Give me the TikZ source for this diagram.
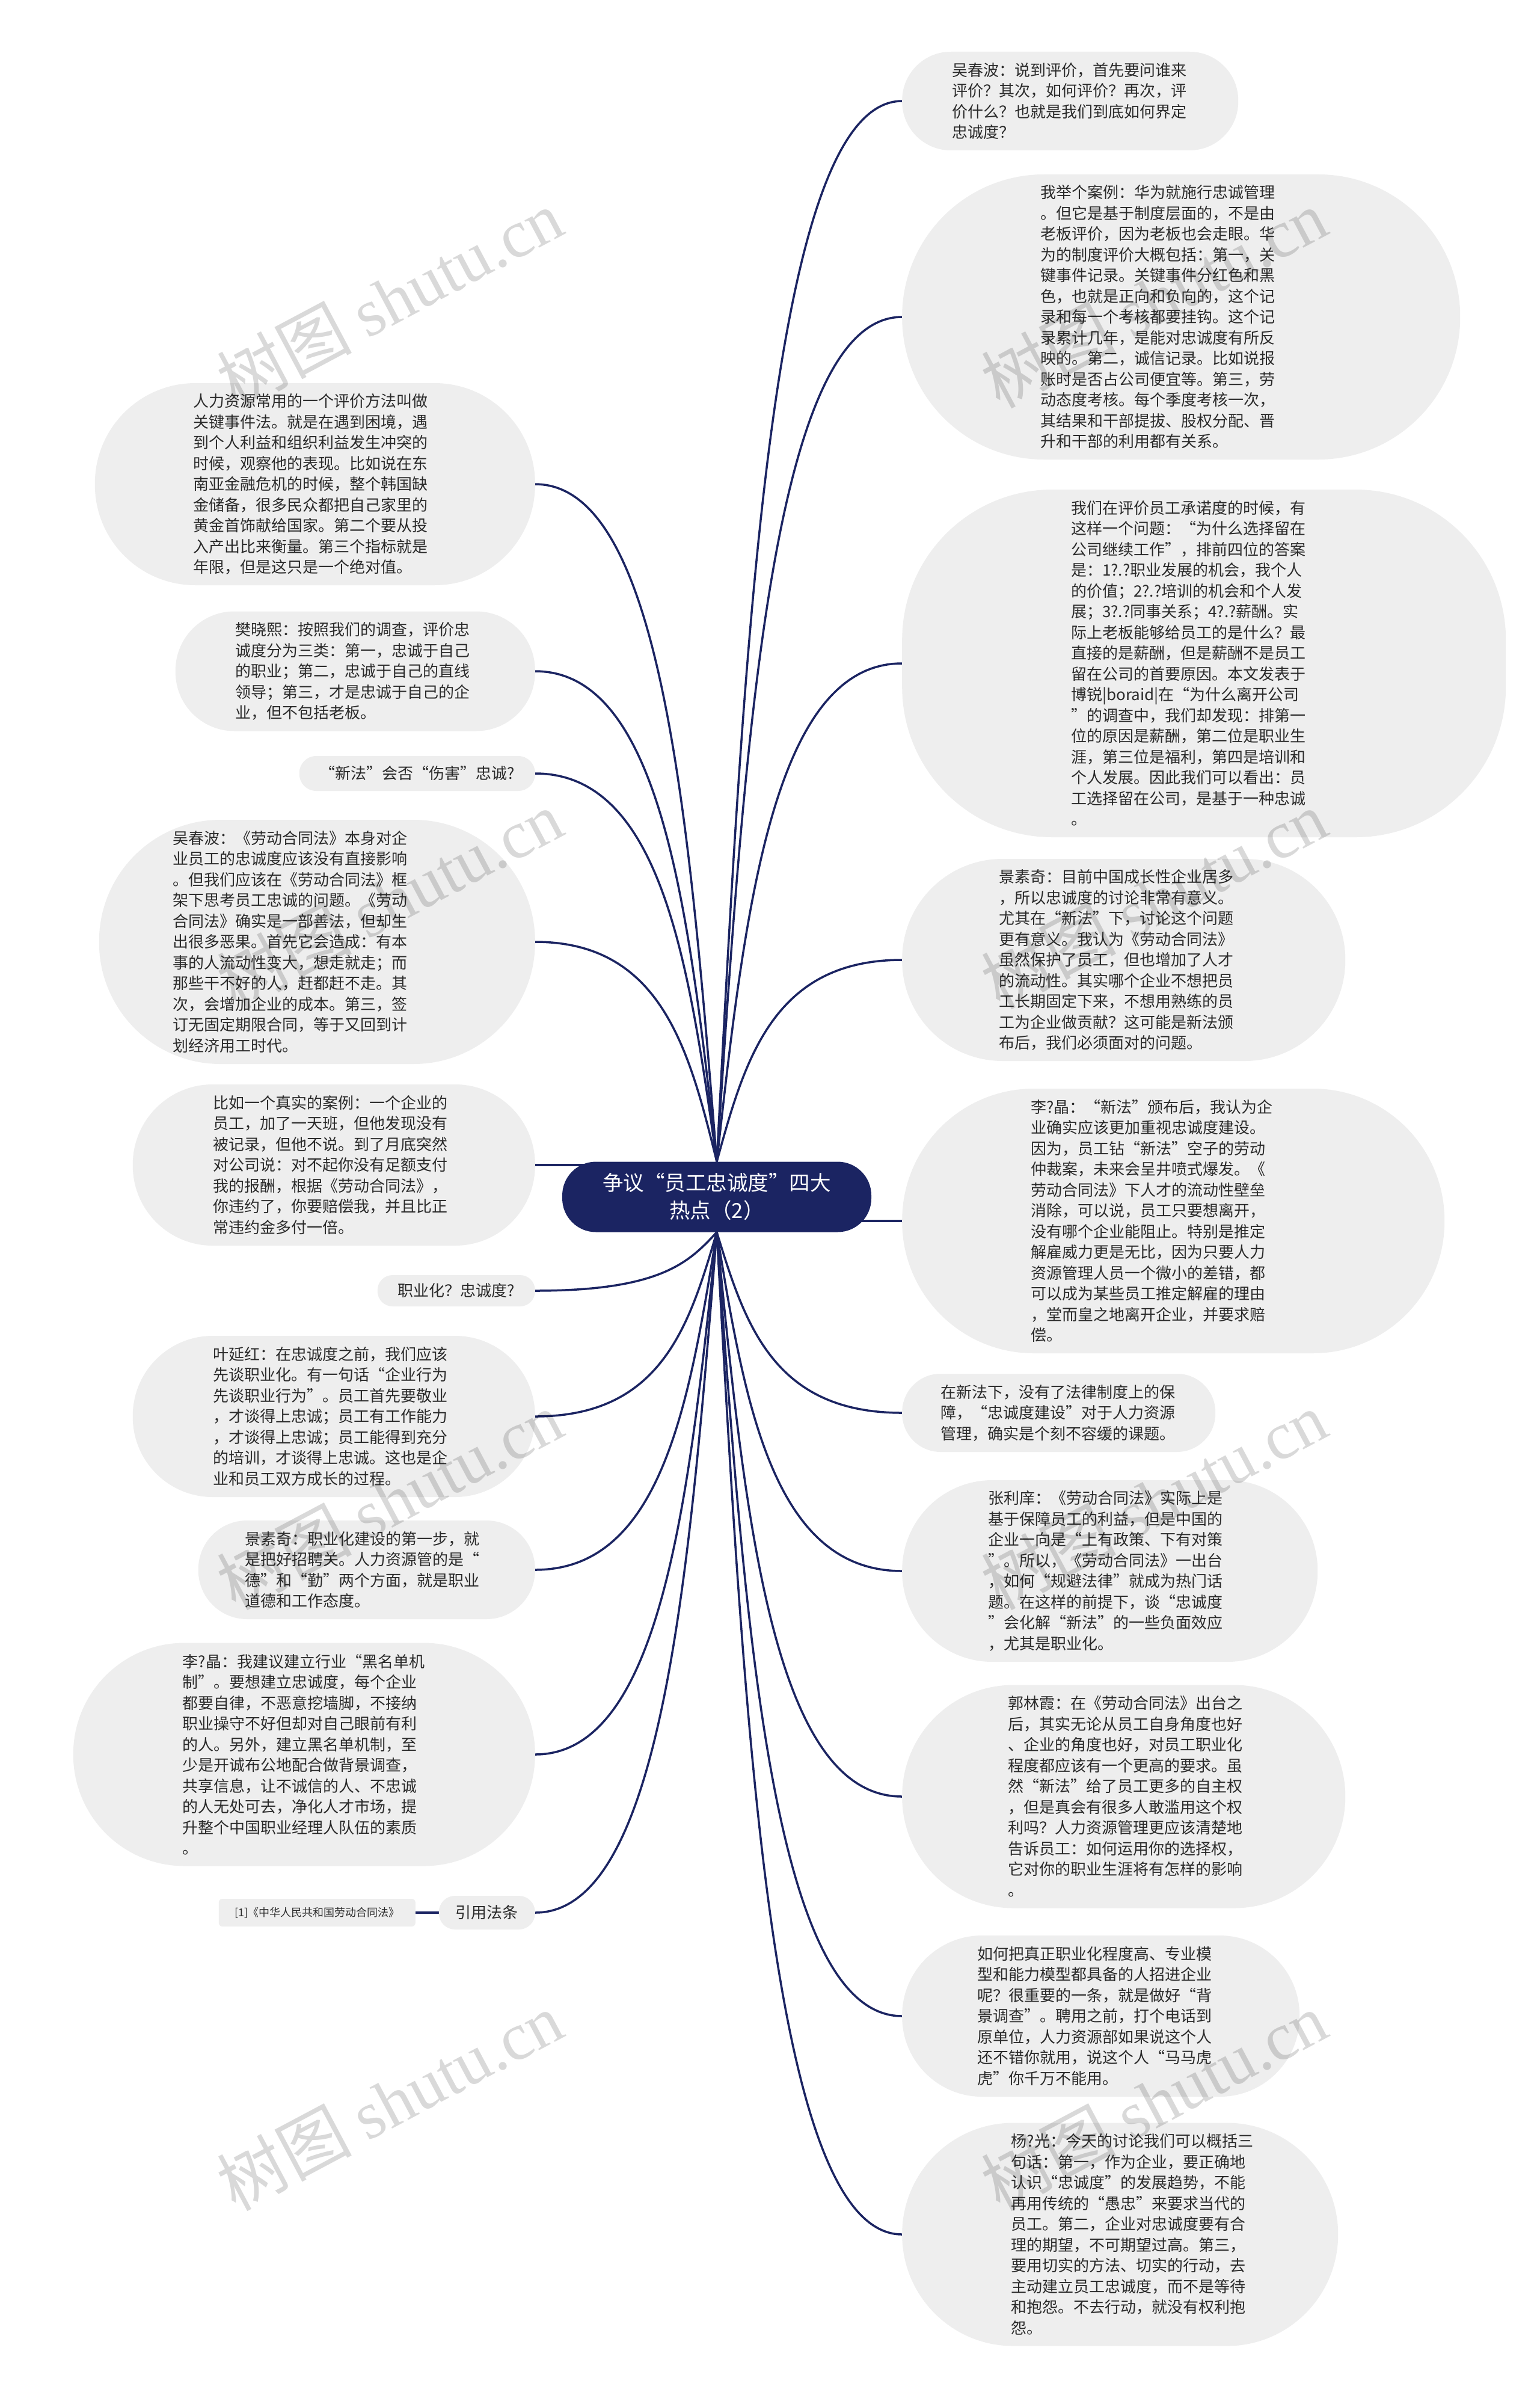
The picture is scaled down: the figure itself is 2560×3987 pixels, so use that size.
\documentclass[tikz,border=0pt]{standalone}
\usepackage{fontspec}
\setmainfont{Noto Sans CJK SC}
\newfontfamily\wmserif{Liberation Serif}
\usetikzlibrary{calc,backgrounds}
\definecolor{navy}{HTML}{1B2462}
\definecolor{bubgray}{HTML}{EEEEEE}
\definecolor{txtc}{HTML}{2A2A2A}
\newcommand\tb[2]{\hspace*{#1}\parbox{392pt}{\raggedright #2}}
\newcommand\mmconn[2]{\draw[connline] let \p1=(#1), \p2=(#2) in (\p1) .. controls ({\x1+0.15*(\x2-\x1)},{\y1+0.5*(\y2-\y1)}) and ({\x1+0.3*(\x2-\x1)},\y2) .. (\p2);}
\tikzset{
  bub/.style={fill=bubgray, text=txtc, inner sep=0pt, font=\fontsize{26pt}{34.5pt}\selectfont},
  connline/.style={draw=navy, line width=3.5pt, line cap=round},
  wmark/.style={rotate=28, text=black, opacity=0.15, font=\fontsize{112pt}{112pt}\selectfont},
}
\begin{document}
\begin{tikzpicture}[x=1pt,y=-1pt]
\useasboundingbox (0,0) rectangle (2560,3987);

% root
\node[fill=navy, text=white, rounded corners=56pt, minimum width=514pt, minimum height=117pt, inner sep=0pt, align=center, font=\fontsize{34.5pt}{46pt}\selectfont] (root) at (1192,1990) {争议“员工忠诚度”四大\\热点（2）};

% right side
\node[bub, anchor=west, minimum width=559pt, minimum height=164pt, rounded corners=81pt] (R1) at (1500,168) {\tb{0pt}{吴春波：说到评价，首先要问谁来\\评价？其次，如何评价？再次，评\\价什么？也就是我们到底如何界定\\忠诚度？}};

\node[bub, anchor=west, minimum width=928pt, minimum height=474pt, rounded corners=236pt] (R2) at (1500,527) {\tb{-76pt}{我举个案例：华为就施行忠诚管理\\。但它是基于制度层面的，不是由\\老板评价，因为老板也会走眼。华\\为的制度评价大概包括：第一，关\\键事件记录。关键事件分红色和黑\\色，也就是正向和负向的，这个记\\录和每一个考核都要挂钩。这个记\\录累计几年，是能对忠诚度有所反\\映的。第二，诚信记录。比如说报\\账时是否占公司便宜等。第三，劳\\动态度考核。每个季度考核一次，\\其结果和干部提拔、股权分配、晋\\升和干部的利用都有关系。}};

\node[bub, anchor=west, minimum width=1004pt, minimum height=578pt, rounded corners=250pt] (R3) at (1500,1103) {\tb{-50pt}{我们在评价员工承诺度的时候，有\\这样一个问题：“为什么选择留在\\公司继续工作”，排前四位的答案\\是：1?.?职业发展的机会，我个人\\的价值；2?.?培训的机会和个人发\\展；3?.?同事关系；4?.?薪酬。实\\际上老板能够给员工的是什么？最\\直接的是薪酬，但是薪酬不是员工\\留在公司的首要原因。本文发表于\\博锐|boraid|在“为什么离开公司\\”的调查中，我们却发现：排第一\\位的原因是薪酬，第二位是职业生\\涯，第三位是福利，第四是培训和\\个人发展。因此我们可以看出：员\\工选择留在公司，是基于一种忠诚\\。}};

\node[bub, anchor=west, minimum width=737pt, minimum height=336pt, rounded corners=167pt] (R4) at (1500,1596) {\tb{-22pt}{景素奇：目前中国成长性企业居多\\，所以忠诚度的讨论非常有意义。\\尤其在“新法”下，讨论这个问题\\更有意义。我认为《劳动合同法》\\虽然保护了员工，但也增加了人才\\的流动性。其实哪个企业不想把员\\工长期固定下来，不想用熟练的员\\工为企业做贡献？这可能是新法颁\\布后，我们必须面对的问题。}};

\node[bub, anchor=west, minimum width=902pt, minimum height=440pt, rounded corners=219pt] (R5) at (1500,2030) {\tb{-82pt}{李?晶：“新法”颁布后，我认为企\\业确实应该更加重视忠诚度建设。\\因为，员工钻“新法”空子的劳动\\仲裁案，未来会呈井喷式爆发。《\\劳动合同法》下人才的流动性壁垒\\消除，可以说，员工只要想离开，\\没有哪个企业能阻止。特别是推定\\解雇威力更是无比，因为只要人力\\资源管理人员一个微小的差错，都\\可以成为某些员工推定解雇的理由\\，堂而皇之地离开企业，并要求赔\\偿。}};

\node[bub, anchor=west, minimum width=521pt, minimum height=130pt, rounded corners=64pt] (R6) at (1500,2349) {\tb{0pt}{在新法下，没有了法律制度上的保\\障，“忠诚度建设”对于人力资源\\管理，确实是个刻不容缓的课题。}};

\node[bub, anchor=west, minimum width=691pt, minimum height=302pt, rounded corners=150pt] (R7) at (1500,2612) {\tb{-12pt}{张利庠：《劳动合同法》实际上是\\基于保障员工的利益，但是中国的\\企业一向是“上有政策、下有对策\\”。所以，《劳动合同法》一出台\\，如何“规避法律”就成为热门话\\题。在这样的前提下，谈“忠诚度\\”会化解“新法”的一些负面效应\\，尤其是职业化。}};

\node[bub, anchor=west, minimum width=737pt, minimum height=371pt, rounded corners=185pt] (R8) at (1500,2987) {\tb{8pt}{郭林霞：在《劳动合同法》出台之\\后，其实无论从员工自身角度也好\\、企业的角度也好，对员工职业化\\程度都应该有一个更高的要求。虽\\然“新法”给了员工更多的自主权\\，但是真会有很多人敢滥用这个权\\利吗？人力资源管理更应该清楚地\\告诉员工：如何运用你的选择权，\\它对你的职业生涯将有怎样的影响\\。}};

\node[bub, anchor=west, minimum width=661pt, minimum height=268pt, rounded corners=133pt] (R9) at (1500,3352) {\tb{-18pt}{如何把真正职业化程度高、专业模\\型和能力模型都具备的人招进企业\\呢？很重要的一条，就是做好“背\\景调查”。聘用之前，打个电话到\\原单位，人力资源部如果说这个人\\还不错你就用，说这个人“马马虎\\虎”你千万不能用。}};

\node[bub, anchor=west, minimum width=725pt, minimum height=371pt, rounded corners=185pt] (R10) at (1500,3715) {\tb{30pt}{杨?光：今天的讨论我们可以概括三\\句话：第一，作为企业，要正确地\\认识“忠诚度”的发展趋势，不能\\再用传统的“愚忠”来要求当代的\\员工。第二，企业对忠诚度要有合\\理的期望，不可期望过高。第三，\\要用切实的方法、切实的行动，去\\主动建立员工忠诚度，而不是等待\\和抱怨。不去行动，就没有权利抱\\怨。}};

% left side
\node[bub, anchor=east, minimum width=732pt, minimum height=336pt, rounded corners=167pt] (L1) at (890,805) {\tb{-12pt}{人力资源常用的一个评价方法叫做\\关键事件法。就是在遇到困境，遇\\到个人利益和组织利益发生冲突的\\时候，观察他的表现。比如说在东\\南亚金融危机的时候，整个韩国缺\\金储备，很多民众都把自己家里的\\黄金首饰献给国家。第二个要从投\\入产出比来衡量。第三个指标就是\\年限，但是这只是一个绝对值。}};

\node[bub, anchor=east, minimum width=598pt, minimum height=199pt, rounded corners=98pt] (L2) at (890,1116) {\tb{-6pt}{樊晓熙：按照我们的调查，评价忠\\诚度分为三类：第一，忠诚于自己\\的职业；第二，忠诚于自己的直线\\领导；第三，才是忠诚于自己的企\\业，但不包括老板。}};

\node[bub, anchor=east, minimum width=392pt, minimum height=58pt, rounded corners=28pt] (L3) at (890,1286) {“新法”会否“伤害”忠诚?};

\node[bub, anchor=east, minimum width=725pt, minimum height=406pt, rounded corners=202pt] (L4) at (890,1566) {\tb{-88pt}{吴春波：《劳动合同法》本身对企\\业员工的忠诚度应该没有直接影响\\。但我们应该在《劳动合同法》框\\架下思考员工忠诚的问题。《劳动\\合同法》确实是一部善法，但却生\\出很多恶果。首先它会造成：有本\\事的人流动性变大，想走就走；而\\那些干不好的人，赶都赶不走。其\\次，会增加企业的成本。第三，签\\订无固定期限合同，等于又回到计\\划经济用工时代。}};

\node[bub, anchor=east, minimum width=669pt, minimum height=268pt, rounded corners=133pt] (L5) at (890,1937) {\tb{-10pt}{比如一个真实的案例：一个企业的\\员工，加了一天班，但他发现没有\\被记录，但他不说。到了月底突然\\对公司说：对不起你没有足额支付\\我的报酬，根据《劳动合同法》，\\你违约了，你要赔偿我，并且比正\\常违约金多付一倍。}};

\node[bub, anchor=east, minimum width=262pt, minimum height=52pt, rounded corners=25pt] (L6) at (890,2146) {职业化？忠诚度?};

\node[bub, anchor=east, minimum width=669pt, minimum height=268pt, rounded corners=133pt] (L7) at (890,2355) {\tb{-10pt}{叶延红：在忠诚度之前，我们应该\\先谈职业化。有一句话“企业行为\\先谈职业行为”。员工首先要敬业\\，才谈得上忠诚；员工有工作能力\\，才谈得上忠诚；员工能得到充分\\的培训，才谈得上忠诚。这也是企\\业和员工双方成长的过程。}};

\node[bub, anchor=east, minimum width=560pt, minimum height=164pt, rounded corners=81pt] (L8) at (890,2610) {\tb{-12pt}{景素奇：职业化建设的第一步，就\\是把好招聘关。人力资源管的是“\\德”和“勤”两个方面，就是职业\\道德和工作态度。}};

\node[bub, anchor=east, minimum width=768pt, minimum height=371pt, rounded corners=185pt] (L9) at (890,2917) {\tb{-12pt}{李?晶：我建议建立行业“黑名单机\\制”。要想建立忠诚度，每个企业\\都要自律，不恶意挖墙脚，不接纳\\职业操守不好但却对自己眼前有利\\的人。另外，建立黑名单机制，至\\少是开诚布公地配合做背景调查，\\共享信息，让不诚信的人、不忠诚\\的人无处可去，净化人才市场，提\\升整个中国职业经理人队伍的素质\\。}};

\node[bub, anchor=east, minimum width=160pt, minimum height=56pt, rounded corners=27pt] (L10) at (890,3180) {引用法条};

\node[fill=bubgray, text=txtc, rounded corners=6pt, minimum width=327pt, minimum height=46pt, inner sep=0pt, font=\fontsize{18pt}{22pt}\selectfont, anchor=east] (cite) at (691,3180) {[1]《中华人民共和国劳动合同法》};

% connectors
\begin{scope}[on background layer]
\fill[white] (0,0) rectangle (2560,3987);
\mmconn{root.north}{R1.west}
\mmconn{root.north}{R2.west}
\mmconn{root.north}{R3.west}
\mmconn{root.north}{R4.west}
\draw[connline] (R5.west) -- (R5.west -| root.center);
\mmconn{root.south}{R6.west}
\mmconn{root.south}{R7.west}
\mmconn{root.south}{R8.west}
\mmconn{root.south}{R9.west}
\mmconn{root.south}{R10.west}
\mmconn{root.north}{L1.east}
\mmconn{root.north}{L2.east}
\mmconn{root.north}{L3.east}
\mmconn{root.north}{L4.east}
\draw[connline] (L5.east) -- (L5.east -| root.center);
\mmconn{root.south}{L6.east}
\mmconn{root.south}{L7.east}
\mmconn{root.south}{L8.east}
\mmconn{root.south}{L9.east}
\mmconn{root.south}{L10.east}
\draw[connline] (cite.east) -- (L10.west);
\end{scope}

% watermarks
\foreach \wx/\wy [count=\i] in {648/496, 648/1495, 648/2494, 648/3493, 1919/496, 1919/1495, 1919/2494, 1919/3493}
  \node[wmark] (wm\i) at (\wx,\wy) {树图 {\wmserif shutu.cn}};
\end{tikzpicture}
\end{document}
